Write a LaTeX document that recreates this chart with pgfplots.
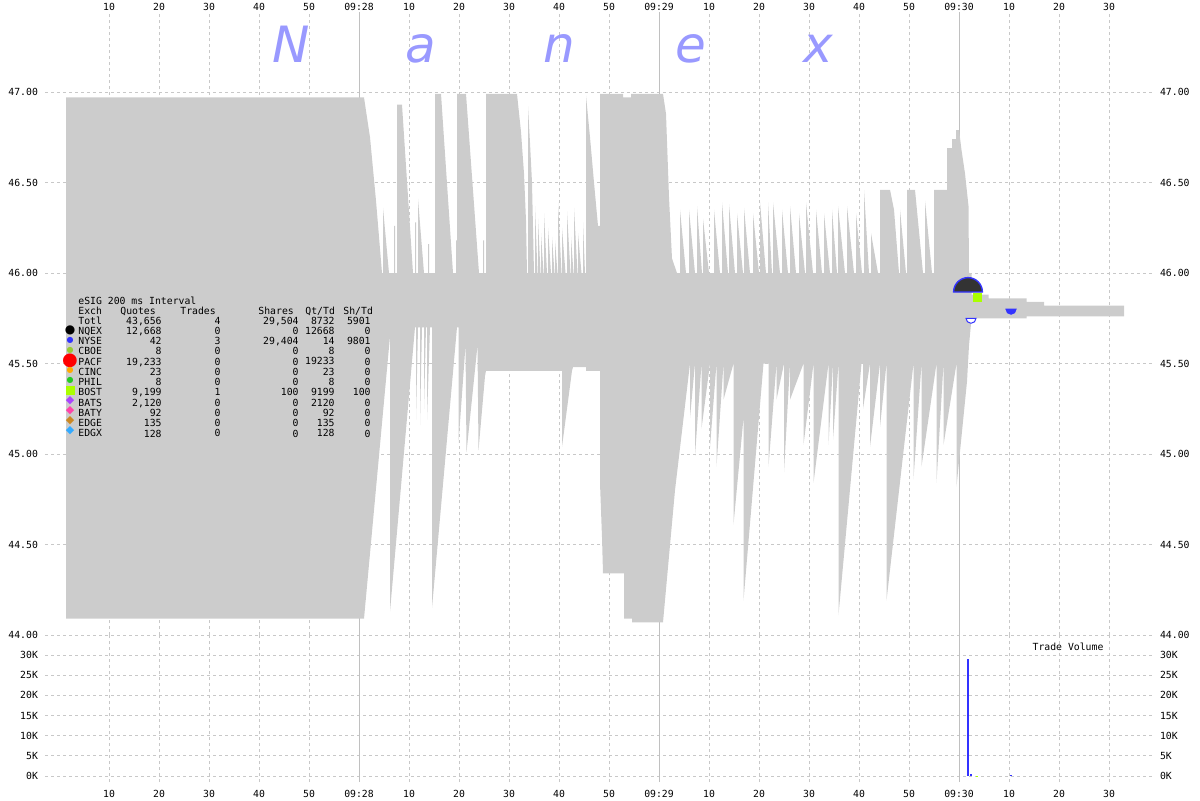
\documentclass[border=0pt]{standalone}
\usepackage{fontspec}
\setmainfont{DejaVu Sans Mono}
\newfontfamily\symfont{DejaVu Sans}
\newfontfamily\wmfont{DejaVu Sans}
\usepackage{pgfplots}
\pgfplotsset{compat=1.18}
\usepgfplotslibrary{fillbetween}

\definecolor{band}{HTML}{CCCCCC}
\definecolor{gridc}{HTML}{C8C8C8}
\definecolor{minc}{HTML}{C0C0C0}
\definecolor{nqex}{HTML}{000000}
\definecolor{nyse}{HTML}{3333FF}
\definecolor{cboe}{HTML}{99CC33}
\definecolor{pacf}{HTML}{FF0000}
\definecolor{cinc}{HTML}{FFAA00}
\definecolor{phil}{HTML}{22CC22}
\definecolor{bost}{HTML}{AAFF00}
\definecolor{bats}{HTML}{AA44FF}
\definecolor{baty}{HTML}{FF44AA}
\definecolor{edge}{HTML}{CC8822}
\definecolor{edgx}{HTML}{33AAFF}
\definecolor{dark}{HTML}{333333}
\definecolor{wm}{HTML}{9999FF}

\newcommand\tf{\fontsize{4.9}{5}\selectfont}

% half disc marks for trades
\pgfdeclareplotmark{uhalf}{%
  \pgfpathmoveto{\pgfqpoint{\pgfplotmarksize}{0pt}}%
  \pgfpatharc{0}{180}{\pgfplotmarksize}%
  \pgfpathclose
  \pgfusepathqfillstroke}
\pgfdeclareplotmark{lhalf}{%
  \pgfpathmoveto{\pgfqpoint{-\pgfplotmarksize}{0pt}}%
  \pgfpatharc{180}{360}{\pgfplotmarksize}%
  \pgfpathclose
  \pgfusepathqfillstroke}

\pgfplotsset{
  nxbase/.style={
    scale only axis, width=554pt,
    xmin=-2.8, xmax=218.8,
    axis line style={draw=none},
    tick style={draw=none},
    major tick length=0pt,
    ticklabel style={font=\tf, text=black},
  },
  nxgrid/.style={
    xtick={10,20,30,40,50,70,80,90,100,110,130,140,150,160,170,190,200,210},
    xticklabels={10,20,30,40,50,10,20,30,40,50,10,20,30,40,50,10,20,30},
    extra x ticks={60,120,180},
    extra x tick labels={09:28,09:29,09:30},
    extra x tick style={major grid style={minc, solid, line width=0.5pt}},
    grid=major,
    major grid style={gridc, dash pattern=on 1.5pt off 1.5pt, line width=0.5pt},
  },
}

\begin{document}
\begin{tikzpicture}

% price panel
\begin{axis}[nxbase, nxgrid,
  at={(22.5pt,-317.5pt)}, anchor=south west, height=311.5pt,
  ymin=44, ymax=47.442,
  axis x line*=top, axis y line*=left,
  ytick={44,44.5,45,45.5,46,46.5,47},
  yticklabels={44.00,44.50,45.00,45.50,46.00,46.50,47.00},
  xticklabel style={inner sep=0pt, yshift=0.6pt},
]
\addplot[name path=U, draw=none] coordinates {
(1.4,46.97)(61.0,46.97)(62.2,46.75)(63.4,46.40)(64.6,46.00)
(64.8,46.00)(64.8,46.36)(66.0,46.00)
(67.0,46.00)(67.0,46.26)(67.2,46.26)(67.2,46.00)
(67.6,46.00)(67.6,46.93)(68.6,46.93)(70.8,46.00)
(71.2,46.00)(71.2,46.28)(71.4,46.28)(71.4,46.00)
(71.8,46.00)(71.8,46.41)(73.0,46.00)
(73.8,46.00)(73.8,46.16)(74.0,46.16)(74.0,46.00)
(75.2,46.00)(75.2,46.99)(76.4,46.99)(78.8,46.00)
(79.4,46.00)(79.4,46.18)(79.6,46.18)(79.6,46.99)(81.4,46.99)(84.0,46.00)
(84.8,46.00)(84.8,46.18)(85.0,46.18)(85.0,46.00)
(85.4,46.00)(85.4,46.99)(91.6,46.99)(92.4,46.78)(93.0,46.55)(93.4,46.29)(93.6,46.00)
(93.8,46.00)(93.8,46.92)(94.2,46.72)(94.6,46.50)(95.0,46.00)
(95.2,46.00)(95.2,46.37)(95.7,46.00)
(95.8,46.00)(95.8,46.30)(96.3,46.00)
(96.4,46.00)(96.4,46.22)(96.9,46.00)
(97.0,46.00)(97.0,46.33)(97.6,46.00)
(97.8,46.00)(97.8,46.25)(98.4,46.00)
(98.6,46.00)(98.6,46.20)(99.1,46.00)
(99.2,46.00)(99.2,46.18)(99.7,46.00)
(99.8,46.00)(99.8,46.39)(100.5,46.00)
(100.6,46.00)(100.6,46.25)(101.3,46.00)
(101.6,46.00)(101.6,46.34)(102.3,46.00)
(102.4,46.00)(102.4,46.20)(102.9,46.00)
(103.0,46.00)(103.0,46.36)(103.7,46.00)
(103.8,46.00)(103.8,46.22)(104.5,46.00)
(104.8,46.00)(104.8,46.28)(105.2,46.00)
(105.4,46.00)(105.4,46.98)(106.2,46.75)(107.0,46.50)(107.8,46.26)(108.2,46.26)
(108.2,46.99)(112.8,46.99)(112.8,46.97)(114.4,46.97)(114.4,46.99)(120.8,46.99)
(121.4,46.88)(122.0,46.42)(122.6,46.08)(123.6,46.00)
(124.2,46.00)(124.2,46.35)(125.4,46.00)
(126.0,46.00)(126.0,46.35)(127.2,46.00)
(127.6,46.00)(127.6,46.37)(128.6,46.00)
(128.8,46.00)(128.8,46.30)(130.0,46.00)
(131.0,46.00)(131.0,46.35)(132.2,46.00)
(132.6,46.00)(132.6,46.39)(133.8,46.00)
(134.0,46.00)(134.0,46.38)(135.2,46.00)
(135.6,46.00)(135.6,46.33)(136.8,46.00)
(137.0,46.00)(137.0,46.36)(138.2,46.00)
(138.8,46.00)(138.8,46.33)(140.0,46.00)
(140.2,46.00)(140.2,46.39)(141.4,46.00)
(141.8,46.00)(141.8,46.39)(142.6,46.00)
(142.8,46.00)(142.8,46.39)(144.2,46.00)
(144.6,46.00)(144.6,46.35)(145.8,46.00)
(146.2,46.00)(146.2,46.37)(147.4,46.00)
(148.0,46.00)(148.0,46.33)(149.2,46.00)
(149.4,46.00)(149.4,46.39)(150.8,46.00)
(151.4,46.00)(151.4,46.35)(152.6,46.00)
(153.0,46.00)(153.0,46.33)(154.2,46.00)
(154.6,46.00)(154.6,46.35)(155.6,46.00)
(155.8,46.00)(155.8,46.37)(157.2,46.00)
(157.6,46.00)(157.6,46.37)(159.0,46.00)
(159.4,46.00)(159.4,46.33)(160.6,46.00)
(161.0,46.00)(161.0,46.46)(162.0,46.00)
(162.4,46.00)(162.4,46.22)(163.8,46.00)
(164.2,46.00)(164.2,46.46)(166.2,46.46)(167.0,46.35)(168.0,46.00)
(168.2,46.00)(168.2,46.35)(169.4,46.00)
(169.6,46.00)(169.6,46.46)(171.2,46.46)(172.8,46.00)
(173.2,46.00)(173.2,46.40)(174.6,46.00)
(175.0,46.00)(175.0,46.46)(177.6,46.46)(177.6,46.69)(178.6,46.69)(178.6,46.74)
(179.4,46.74)(179.4,46.79)(180.0,46.79)(180.5,46.68)(181.2,46.55)(181.9,46.37)
(182.0,46.00)(182.5,46.00)(182.5,45.88)(185.9,45.88)(185.9,45.86)(193.5,45.86)
(193.5,45.84)(197.0,45.84)(197.0,45.82)(213.0,45.82)
};
\addplot[name path=L, draw=none] coordinates {
(1.4,44.09)(61.0,44.09)(66.2,45.65)(66.2,44.13)(71.2,45.70)
(71.4,45.70)(71.4,45.19)(71.8,45.70)
(72.2,45.70)(72.2,45.16)(72.6,45.70)
(73.0,45.70)(73.0,45.25)(73.4,45.70)
(73.6,45.70)(73.6,45.19)(74.2,45.70)
(74.6,45.70)(74.6,44.15)(79.6,45.70)
(79.9,45.70)(79.9,45.06)(81.3,45.60)(81.5,45.01)(83.7,45.60)(83.9,45.02)(85.2,45.43)(85.4,45.46)
(100.6,45.46)(100.6,45.04)(102.6,45.46)(102.8,45.48)(105.4,45.48)(105.4,45.46)(108.2,45.46)
(108.2,44.84)(108.6,44.54)(108.8,44.34)(113.0,44.34)(113.0,44.09)(114.6,44.09)(114.6,44.07)
(120.8,44.07)(123.2,44.80)(126.2,45.50)
(126.2,45.20)(127.2,45.50)(127.2,44.99)(128.5,45.50)(128.5,45.14)(130.2,45.50)
(130.2,45.04)(131.5,45.50)(131.5,44.93)(132.9,45.50)(132.9,45.30)(134.9,45.50)
(134.9,44.61)(136.9,45.20)(136.9,44.19)(140.9,45.50)(141.9,45.50)
(141.9,44.93)(143.5,45.50)(143.5,45.30)(145.0,45.50)(145.0,44.90)(146.2,45.50)
(146.2,45.30)(148.9,45.50)(148.9,45.05)(150.9,45.50)(150.9,44.84)(153.9,45.50)
(153.9,45.05)(154.8,45.50)(154.8,45.08)(155.9,45.50)(155.9,44.11)(160.5,45.50)
(160.8,45.50)(160.8,45.25)(162.2,45.50)(162.2,45.04)(164.2,45.50)(164.2,45.15)(165.5,45.50)
(165.5,44.19)(170.9,45.50)(170.9,44.86)(172.5,45.50)(172.5,44.93)(175.5,45.50)
(175.5,44.84)(176.9,45.50)(176.9,45.05)(179.5,45.50)(179.5,44.82)(181.6,45.40)
(182.0,45.60)(182.5,45.75)(193.5,45.75)(193.5,45.76)(213.0,45.76)
};
\addplot[band, draw=none] fill between[of=U and L];

% trades
\addplot[only marks, mark=uhalf, mark size=7.2pt,
  mark options={fill=dark, draw=nyse, line width=0.7pt}] coordinates {(181.8,45.895)};
\addplot[only marks, bost, mark=square*, mark size=2pt,
  mark options={fill=bost, draw=bost}] coordinates {(183.6,45.867)};
\addplot[only marks, mark=lhalf, mark size=2.5pt,
  mark options={fill=white, draw=nyse, line width=0.5pt}] coordinates {(182.4,45.75)};
\addplot[only marks, mark=lhalf, mark size=2.5pt,
  mark options={fill=nyse, draw=nyse, line width=0.5pt}] coordinates {(190.4,45.80)};
\end{axis}

% right hand price labels
\begin{axis}[nxbase,
  at={(22.5pt,-317.5pt)}, anchor=south west, height=311.5pt,
  ymin=44, ymax=47.442,
  axis y line*=right, axis x line*=top, xtick=\empty,
  ytick={44,44.5,45,45.5,46,46.5,47},
  yticklabels={44.00,44.50,45.00,45.50,46.00,46.50,47.00},
]
\addplot[draw=none] coordinates {(-2.8,44)(218.8,47.442)};
\end{axis}

% volume panel
\begin{axis}[nxbase, nxgrid,
  at={(22.5pt,-391pt)}, anchor=south west, height=73.5pt,
  ymin=-1488, ymax=34959,
  axis x line*=bottom, axis y line*=left,
  ytick={0,5000,10000,15000,20000,25000,30000},
  yticklabels={0K,5K,10K,15K,20K,25K,30K},
  scaled y ticks=false,
  xticklabel style={yshift=-0.6pt},
]
\addplot[ycomb, nyse, line width=0.6pt] coordinates {(181.8,28900)(182.4,400)(190.4,200)};
\addplot[ycomb, bost, line width=0.6pt] coordinates {(183.6,100)};
\end{axis}

\begin{axis}[nxbase,
  at={(22.5pt,-391pt)}, anchor=south west, height=73.5pt,
  ymin=-1488, ymax=34959,
  axis y line*=right, axis x line*=bottom, xtick=\empty,
  ytick={0,5000,10000,15000,20000,25000,30000},
  yticklabels={0K,5K,10K,15K,20K,25K,30K},
  scaled y ticks=false,
]
\addplot[draw=none] coordinates {(-2.8,0)(218.8,30000)};
\end{axis}

\begin{scope}[x=0.5pt, y=-0.5pt]
% watermark
\foreach \l/\xx in {N/291, a/421, n/559, e/691, x/818}
  \node[anchor=base, inner sep=0, text=wm,
    font=\wmfont\itshape\fontsize{25}{25}\selectfont] at (\xx,62) {\l};

\node[font=\tf, inner sep=0] at (1068,647) {Trade Volume};

% statistics box
\node[anchor=base west, inner sep=0, font=\tf] at (78,304) {eSIG 200 ms Interval};
\node[anchor=base west, inner sep=0, font=\tf] at (78,314) {Exch};
\node[anchor=base west, inner sep=0, font=\tf] at (120,314) {Quotes};
\node[anchor=base west, inner sep=0, font=\tf] at (180,314) {Trades};
\node[anchor=base west, inner sep=0, font=\tf] at (258,314) {Shares};
\node[anchor=base west, inner sep=0, font=\tf] at (305,314) {Qt/Td};
\node[anchor=base west, inner sep=0, font=\tf] at (343,314) {Sh/Td};

\node[anchor=base west, inner sep=0, font=\tf] at (78,324)
  {\begin{tabular}[t]{@{}l@{}}Totl\\NQEX\\NYSE\\CBOE\\PACF\\CINC\\PHIL\\BOST\\BATS\\BATY\\EDGE\\EDGX\end{tabular}};
\node[anchor=base east, inner sep=0, font=\tf] at (162,324)
  {\begin{tabular}[t]{@{}r@{}}43,656\\12,668\\42\\8\\19,233\\23\\8\\9,199\\2,120\\92\\135\\128\end{tabular}};
\node[anchor=base east, inner sep=0, font=\tf] at (221,324)
  {\begin{tabular}[t]{@{}r@{}}4\\0\\3\\0\\0\\0\\0\\1\\0\\0\\0\\0\end{tabular}};
\node[anchor=base east, inner sep=0, font=\tf] at (299,324)
  {\begin{tabular}[t]{@{}r@{}}29,504\\0\\29,404\\0\\0\\0\\0\\100\\0\\0\\0\\0\end{tabular}};
\node[anchor=base east, inner sep=0, font=\tf] at (335,324)
  {\begin{tabular}[t]{@{}r@{}}8732\\12668\\14\\8\\19233\\23\\8\\9199\\2120\\92\\135\\128\end{tabular}};
\node[anchor=base east, inner sep=0, font=\tf] at (371,324)
  {\begin{tabular}[t]{@{}r@{}}5901\\0\\9801\\0\\0\\0\\0\\100\\0\\0\\0\\0\end{tabular}};

% exchange keys
\node[inner sep=0, text=nqex, font=\symfont\fontsize{6}{6}\selectfont] at (70,330.7) {●};
\node[inner sep=0, text=nyse, font=\symfont\fontsize{4}{4}\selectfont] at (70,340.7) {●};
\node[inner sep=0, text=cboe, font=\symfont\fontsize{4}{4}\selectfont] at (70,350.7) {●};
\node[inner sep=0, text=pacf, font=\symfont\fontsize{9}{9}\selectfont] at (70,360.7) {●};
\node[inner sep=0, text=cinc, font=\symfont\fontsize{4}{4}\selectfont] at (70,370.7) {●};
\node[inner sep=0, text=phil, font=\symfont\fontsize{4}{4}\selectfont] at (70,380.7) {●};
\node[inner sep=0, text=bost] at (70.5,390.7) {\rule{4.5pt}{4.5pt}};
\node[inner sep=0, text=bats, font=\symfont\fontsize{5.5}{5.5}\selectfont] at (70,400.7) {◆};
\node[inner sep=0, text=baty, font=\symfont\fontsize{5.5}{5.5}\selectfont] at (70,410.7) {◆};
\node[inner sep=0, text=edge, font=\symfont\fontsize{5.5}{5.5}\selectfont] at (70,420.7) {◆};
\node[inner sep=0, text=edgx, font=\symfont\fontsize{5.5}{5.5}\selectfont] at (70,430.7) {◆};
\end{scope}

% page is exactly the 1200x800 frame
\pgfresetboundingbox
\path (0,0) rectangle (600pt,-400pt);
\end{tikzpicture}
\end{document}
